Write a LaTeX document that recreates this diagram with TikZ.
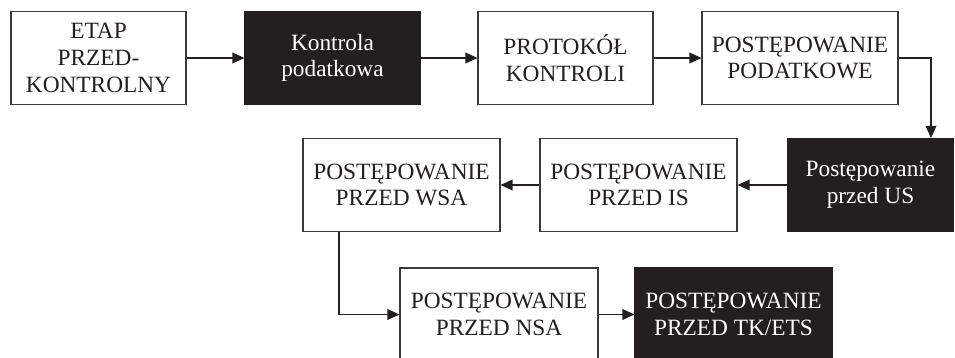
\documentclass[tikz,border=0pt]{standalone}
\usepackage{fontspec}
\setmainfont{Liberation Serif}
\usetikzlibrary{arrows.meta}
\definecolor{ink}{HTML}{231F20}
\definecolor{frame}{HTML}{3A3A3A}
\begin{document}
\begin{tikzpicture}[x=0.75pt,y=-0.75pt,
  box/.style={draw=frame, line width=0.8pt, align=center,
    font=\fontsize{17.5}{20}\selectfont, inner sep=0pt, minimum height=69.75pt},
  wbox/.style={box, fill=white, text=ink},
  bbox/.style={box, fill=ink, draw=ink, text=white},
  conn/.style={draw=ink, line width=1.1pt, -{Triangle[length=9pt,width=8pt]}}]
\useasboundingbox (0,0) rectangle (955,357);
\clip (0,0) rectangle (955,357);
% row 1
\node[wbox, minimum width=131.25pt] (etap) at (98.5,58) {ETAP\\PRZED-\\KONTROLNY};
\node[bbox, minimum width=131.25pt] (kon) at (332.5,58) {Kontrola\\podatkowa};
\node[wbox, minimum width=131.25pt] (prot) at (565.5,58) {PROTOKÓŁ\\KONTROLI};
\node[wbox, minimum width=147pt] (pod) at (800,58) {POSTĘPOWANIE\\PODATKOWE};
% row 2
\node[bbox, minimum width=123.75pt] (us) at (870.5,185) {Postępowanie\\przed US};
\node[wbox, minimum width=147.75pt] (is) at (638.5,185) {POSTĘPOWANIE\\PRZED IS};
\node[wbox, minimum width=147.75pt] (wsa) at (401.5,185) {POSTĘPOWANIE\\PRZED WSA};
% row 3
\node[wbox, minimum width=148.5pt] (nsa) at (499,314.5) {POSTĘPOWANIE\\PRZED NSA};
\node[bbox, minimum width=147.75pt] (tk) at (733.5,314.5) {POSTĘPOWANIE\\PRZED TK/ETS};
% connectors
\coordinate (c1) at (931,58);
\coordinate (c2) at (339,0);
\draw[conn] (etap) -- (kon);
\draw[conn] (kon) -- (prot);
\draw[conn] (prot) -- (pod);
\draw[conn] (pod.east) -- (c1) -- (c1 |- us.north);
\draw[conn] (us) -- (is);
\draw[conn] (is) -- (wsa);
\draw[conn] (c2 |- wsa.south) |- (nsa.west);
\draw[conn] (nsa) -- (tk);
\end{tikzpicture}
\end{document}
